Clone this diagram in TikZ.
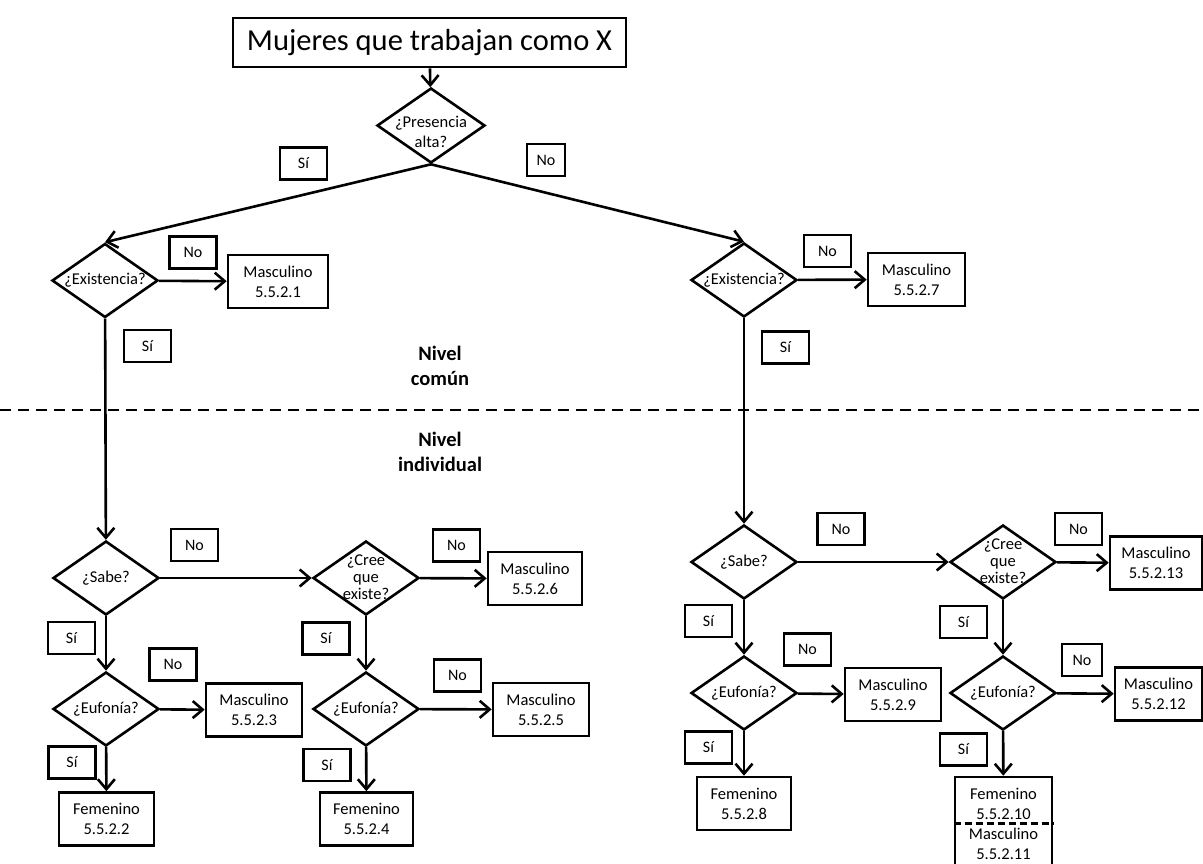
\documentclass[tikz,border=0pt]{standalone}
\usepackage{fontspec}
\setmainfont{Carlito}
\usetikzlibrary{shapes.geometric, arrows.meta}
\newcommand{\dlabel}[1]{\makebox[0pt]{\begin{tabular}{@{}c@{}}#1\end{tabular}}}

\begin{document}
\begin{tikzpicture}[
  x=1pt, y=-1pt,
  decision/.style={draw, diamond, line width=2.6pt, inner sep=0pt, minimum width=106pt, minimum height=74pt, font=\fontsize{16.5}{20}\selectfont},
  result/.style={draw, rectangle, line width=2.6pt, align=center, inner sep=2pt, minimum width=95pt, minimum height=53pt, font=\fontsize{16.5}{20}\selectfont},
  tag/.style={draw, rectangle, line width=2.4pt, minimum width=47pt, minimum height=32pt, inner sep=0pt, font=\fontsize{16}{20}\selectfont},
  level/.style={align=center, font=\fontsize{20.5}{25}\selectfont\bfseries},
  link/.style={line width=2.6pt, -{Straight Barb[length=10pt, width=17pt]}}
]
  \useasboundingbox (0,0) rectangle (1203,863);

  % Top
  \node[draw, line width=2.6pt, minimum width=393pt, minimum height=49pt, inner sep=0pt, font=\fontsize{30.5}{36}\selectfont] (title) at (429.5,42.5) {Mujeres que trabajan como X};
  \node[decision, minimum width=108pt, minimum height=75pt] (pres) at (431,125.5) {\dlabel{\\[-4pt]¿Presencia\\alta?}};
  \node[tag] (siTop) at (303.5,163.5) {Sí};
  \node[tag, minimum width=38pt] (noTop) at (546,160) {No};

  % Common level
  \node[decision] (exL) at (105,280.5) {\dlabel{¿Existencia?}};
  \node[result, minimum width=100pt] (m1) at (278,281.5) {Masculino\\5.5.2.1};
  \node[tag] (noExL) at (193,252.5) {No};
  \node[tag] (siExL) at (147.5,346) {Sí};

  \node[decision] (exR) at (744,280) {\dlabel{¿Existencia?}};
  \node[result, minimum width=97pt] (m7) at (916.5,279.5) {Masculino\\5.5.2.7};
  \node[tag] (noExR) at (827.5,251) {No};
  \node[tag] (siExR) at (785.5,347.5) {Sí};

  \node[level] (comun) at (440,366) {Nivel\\común};
  \draw[line width=2.8pt, dash pattern=on 11pt off 7pt] (0,410) -- (1203,410);
  \node[level] (indiv) at (440,452) {Nivel\\individual};

  % Individual level, left
  \node[decision] (sabeL) at (106,578) {\dlabel{¿Sabe?}};
  \node[decision] (creeL) at (366,578) {\dlabel{¿Cree\\[-3pt]que\\[-3pt]existe?}};
  \node[result, minimum width=94pt] (m6) at (535,578.5) {Masculino\\5.5.2.6};
  \node[tag] (noSabeL) at (194.5,545) {No};
  \node[tag] (noCreeL) at (456.5,545.5) {No};

  \node[decision] (eufL1) at (106,709) {\dlabel{¿Eufonía?}};
  \node[result, minimum width=96pt] (m3) at (254,710) {Masculino\\5.5.2.3};
  \node[result] (f2) at (106.5,819) {Femenino\\5.5.2.2};
  \node[tag] (siSabeL) at (71.5,638) {Sí};
  \node[tag] (noEufL1) at (173,664.5) {No};
  \node[tag] (siEufL1) at (72,762.5) {Sí};

  \node[decision] (eufL2) at (366,709) {\dlabel{¿Eufonía?}};
  \node[result, minimum width=96pt] (m5) at (541,709.5) {Masculino\\5.5.2.5};
  \node[result, minimum width=93pt] (f4) at (366.5,819) {Femenino\\5.5.2.4};
  \node[tag] (siCreeL) at (326,638.5) {Sí};
  \node[tag] (noEufL2) at (457.5,675.5) {No};
  \node[tag] (siEufL2) at (327,765) {Sí};

  % Individual level, right
  \node[decision] (sabeR) at (744,562) {\dlabel{¿Sabe?}};
  \node[decision] (creeR) at (1003,562) {\dlabel{¿Cree\\[-3pt]que\\[-3pt]existe?}};
  \node[result, minimum width=92pt] (m13) at (1156,563) {Masculino\\5.5.2.13};
  \node[tag] (noSabeR) at (841,529) {No};
  \node[tag] (noCreeR) at (1078.5,529) {No};

  \node[decision] (eufR1) at (744,693) {\dlabel{¿Eufonía?}};
  \node[result, minimum width=96pt] (m9) at (893,694.5) {Masculino\\5.5.2.9};
  \node[result, minimum width=94pt] (f8) at (744,803.5) {Femenino\\5.5.2.8};
  \node[tag] (siSabeR) at (708.5,621) {Sí};
  \node[tag] (noEufR1) at (807.5,649.5) {No};
  \node[tag] (siEufR1) at (708.5,747.5) {Sí};

  \node[decision] (eufR2) at (1003,693) {\dlabel{¿Eufonía?}};
  \node[result, minimum width=87pt] (m12) at (1158.5,694) {Masculino\\5.5.2.12};
  \node[result, minimum width=97pt, minimum height=93pt] (f10) at (1003.5,823.5) {Femenino\\5.5.2.10\\Masculino\\5.5.2.11};
  \draw[line width=2.4pt, dash pattern=on 7pt off 4pt] (f10.west) -- (f10.east);
  \node[tag] (siCreeR) at (963.5,622) {Sí};
  \node[tag, minimum width=40pt] (noEufR2) at (1082,660) {No};
  \node[tag] (siEufR2) at (963.5,749.5) {Sí};

  % Connectors
  \draw[link] (title) -- (pres);
  \draw[link] (pres.south) -- (exL.north);
  \draw[link] (pres.south) -- (exR.north);
  \draw[link] (exL) -- (m1);
  \draw[link] (exR) -- (m7);
  \draw[link] (exL) -- (sabeL);
  \draw[link] (exR) -- (sabeR);
  \draw[link] (sabeL) -- (creeL);
  \draw[link] (creeL) -- (m6);
  \draw[link] (sabeL) -- (eufL1);
  \draw[link] (eufL1) -- (m3);
  \draw[link] (eufL1) -- (f2);
  \draw[link] (creeL) -- (eufL2);
  \draw[link] (eufL2) -- (m5);
  \draw[link] (eufL2) -- (f4);
  \draw[link] (sabeR) -- (creeR);
  \draw[link] (creeR) -- (m13);
  \draw[link] (sabeR) -- (eufR1);
  \draw[link] (eufR1) -- (m9);
  \draw[link] (eufR1) -- (f8);
  \draw[link] (creeR) -- (eufR2);
  \draw[link] (eufR2) -- (m12);
  \draw[link] (eufR2) -- (f10);
\end{tikzpicture}
\end{document}
